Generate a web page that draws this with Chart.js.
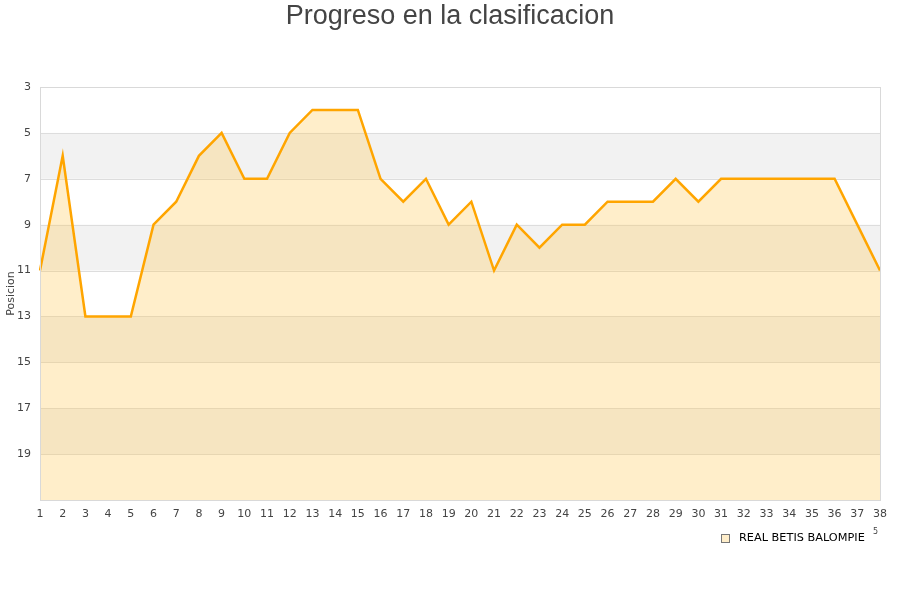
<!DOCTYPE html>
<html><head><meta charset="utf-8">
<script src="https://cdn.jsdelivr.net/npm/chart.js@4/dist/chart.umd.min.js"></script>
<style>html,body{margin:0;padding:0;background:#fff;}canvas{display:block;}</style>
</head><body>
<canvas id="c" width="900" height="600"></canvas>
<script>
const jornadas = [1,2,3,4,5,6,7,8,9,10,11,12,13,14,15,16,17,18,19,20,21,22,23,24,25,26,27,28,29,30,31,32,33,34,35,36,37,38];
const posiciones = [11,6,13,13,13,9,8,6,5,7,7,5,4,4,4,7,8,7,9,8,11,9,10,9,9,8,8,8,7,8,7,7,7,7,7,7,9,11];
const teamName = 'REAL BETIS BALOMPIE';
const chartTitle = 'Progreso en la clasificacion';
const yTitle = 'Posicion';
const grayBands = [[5,7],[9,11],[13,15],[17,19]];

const FONT = 'DejaVu Sans';

const deco = {
  id: 'deco',
  beforeDatasetsDraw(chart) {
    const ctx = chart.ctx, a = chart.chartArea, y = chart.scales.y;
    ctx.save();
    ctx.fillStyle = '#f2f2f2';
    grayBands.forEach(b => {
      const p1 = y.getPixelForValue(b[0]), p2 = y.getPixelForValue(b[1]);
      ctx.fillRect(a.left, p1, a.right - a.left, p2 - p1);
    });
    ctx.strokeStyle = '#dddddd';
    ctx.lineWidth = 1;
    for (let v = 5; v <= 19; v += 2) {
      const p = Math.round(y.getPixelForValue(v)) + 0.5;
      ctx.beginPath(); ctx.moveTo(a.left, p); ctx.lineTo(a.right, p); ctx.stroke();
    }
    ctx.restore();
  },
  afterDraw(chart) {
    const ctx = chart.ctx, a = chart.chartArea;
    ctx.save();
    ctx.strokeStyle = '#d9d9d9';
    ctx.lineWidth = 1;
    ctx.strokeRect(Math.round(a.left) + 0.5, Math.round(a.top) + 0.5, Math.round(a.right - a.left), Math.round(a.bottom - a.top));
    // title
    ctx.fillStyle = '#444444';
    ctx.font = '27px "Liberation Sans", Arial, sans-serif';
    ctx.textAlign = 'center';
    ctx.textBaseline = 'middle';
    ctx.fillText(chartTitle, 450, 17);
    // legend
    ctx.fillStyle = 'rgba(255,200,80,0.3)';
    ctx.fillRect(721.5, 534.5, 8, 8);
    ctx.strokeStyle = '#777';
    ctx.strokeRect(721.5, 534.5, 8, 8);
    ctx.fillStyle = '#000';
    ctx.font = '11.3px "' + FONT + '"';
    ctx.textAlign = 'left';
    ctx.fillText(teamName, 739, 538);
    ctx.fillStyle = '#444';
    ctx.font = '8px "' + FONT + '"';
    ctx.fillText('5', 873, 532);
    ctx.restore();
  }
};

new Chart(document.getElementById('c'), {
  type: 'line',
  data: {
    labels: jornadas,
    datasets: [{
      label: teamName,
      data: posiciones,
      borderColor: '#ffa500',
      borderWidth: 2.5,
      backgroundColor: 'rgba(255,200,80,0.3)',
      fill: {value: 21},
      tension: 0,
      pointRadius: 0,
      pointHoverRadius: 0
    }]
  },
  options: {
    responsive: false,
    animation: false,
    events: [],
    layout: {padding: {top: 87, right: 20, left: 0, bottom: 0}},
    plugins: {legend: {display: false}, title: {display: false}, tooltip: {enabled: false}},
    scales: {
      x: {
        offset: false,
        grid: {display: false, drawTicks: false},
        border: {display: false},
        ticks: {font: {family: FONT, size: 11}, color: '#444', padding: 8, autoSkip: false, maxRotation: 0},
        afterFit(s) { s.height = 100; }
      },
      y: {
        reverse: true,
        min: 3, max: 21,
        grid: {display: false, drawTicks: false},
        border: {display: false},
        ticks: {stepSize: 2, font: {family: FONT, size: 11}, color: '#444', padding: 9,
          callback: v => (v === 21 ? '' : v)},
        title: {display: true, text: yTitle, font: {family: FONT, size: 11}, color: '#444', padding: {top: 5, bottom: 0}},
        afterFit(s) { s.width = 40; }
      }
    }
  },
  plugins: [deco]
});
</script>
</body></html>
